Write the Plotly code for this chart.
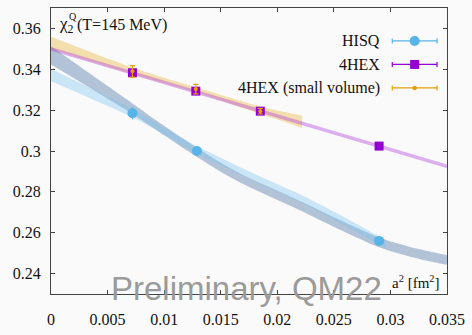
import numpy as np
import plotly.graph_objects as go

# ---- lattice data: chi_2^Q at T = 145 MeV vs a^2 [fm^2] ----
hisq_a2 = [0.0072, 0.0129, 0.0290]
hisq_chi = [0.3185, 0.3000, 0.2560]
hisq_err = [0.0030, 0.0012, 0.0012]

hex_a2 = [0.0072, 0.0128, 0.0185, 0.0290]
hex_chi = [0.3383, 0.3293, 0.3195, 0.3024]
hex_err = [0.0010, 0.0009, 0.0009, 0.0009]

sv_a2 = [0.0072, 0.0128, 0.0185]
sv_chi = [0.3390, 0.3303, 0.3195]
sv_err = [0.0028, 0.0023, 0.0014]

# ---- continuum extrapolation bands ----
hisq_fit1_a2 = [0.0, 0.0036, 0.0072, 0.0100, 0.0129, 0.0149, 0.0180, 0.0219, 0.0254, 0.0290, 0.0296]
hisq_fit1_mid = [0.3372, 0.3280, 0.3186, 0.3097, 0.3005, 0.2952, 0.2870, 0.2772, 0.2672, 0.2562, 0.2544]
hisq_fit1_hw = [0.0031, 0.0025, 0.0020, 0.0018, 0.0018, 0.0018, 0.0018, 0.0019, 0.0019, 0.0020, 0.0020]

hisq_fit2_a2 = [0.0, 0.0036, 0.0072, 0.0100, 0.0129, 0.0155, 0.0180, 0.0219, 0.0254, 0.0290, 0.0320, 0.0350]
hisq_fit2_mid = [0.3468, 0.3338, 0.3207, 0.3100, 0.2993, 0.2905, 0.2833, 0.2735, 0.2642, 0.2553, 0.2503, 0.2467]
hisq_fit2_hw = [0.0045, 0.0035, 0.0026, 0.0023, 0.0022, 0.0022, 0.0022, 0.0023, 0.0024, 0.0024, 0.0024, 0.0024]

sv_fit_a2 = [0.0, 0.0036, 0.0072, 0.0128, 0.0185, 0.0222]
sv_fit_mid = [0.3530, 0.3460, 0.3392, 0.3300, 0.3200, 0.3143]
sv_fit_hw = [0.0029, 0.0022, 0.0016, 0.0012, 0.0018, 0.0030]

hex_fit_a2 = [0.0, 0.035]
hex_fit_chi = [0.3500, 0.2925]

# ---- axes ----
x_ticks = [0, 0.005, 0.01, 0.015, 0.02, 0.025, 0.03, 0.035]
x_ticktext = ["0", "0.005", "0.01", "0.015", "0.02", "0.025", "0.03", "0.035"]
y_ticks = [0.24, 0.26, 0.28, 0.30, 0.32, 0.34, 0.36]
y_ticktext = ["0.24", "0.26", "0.28", "0.3", "0.32", "0.34", "0.36"]

legend_labels = ["HISQ", "4HEX", "4HEX (small volume)"]
watermark = "Preliminary, QM22"

BLUE = "#56b4e9"
VIOLET = "#9400d3"
ORANGE = "#e69f00"
BG = "#fafafa"
SERIF = "Liberation Serif"

W, H = 472, 335
ML, MR, MT, MB = 51, 23, 7, 24


def band(xs, mid, hw, fillcolor):
    xs = np.asarray(xs)
    mid = np.asarray(mid)
    hw = np.asarray(hw)
    upper = go.Scatter(x=xs, y=mid + hw, mode="lines", line=dict(width=0, shape="spline", smoothing=0.8),
                       hoverinfo="skip", showlegend=False)
    lower = go.Scatter(x=xs, y=mid - hw, mode="lines", line=dict(width=0, shape="spline", smoothing=0.8),
                       fill="tonexty", fillcolor=fillcolor, hoverinfo="skip", showlegend=False)
    return [upper, lower]


fig = go.Figure()

for tr in band(hisq_fit2_a2, hisq_fit2_mid, hisq_fit2_hw, "rgba(100,135,178,0.48)"):
    fig.add_trace(tr)
for tr in band(hisq_fit1_a2, hisq_fit1_mid, hisq_fit1_hw, "rgba(120,195,240,0.38)"):
    fig.add_trace(tr)
for tr in band(sv_fit_a2, sv_fit_mid, sv_fit_hw, "rgba(230,159,0,0.30)"):
    fig.add_trace(tr)

fig.add_trace(go.Scatter(x=hex_fit_a2, y=hex_fit_chi, mode="lines",
                         line=dict(color="rgba(175,60,220,0.40)", width=3.5),
                         hoverinfo="skip", showlegend=False))

fig.add_trace(go.Scatter(
    x=hisq_a2, y=hisq_chi, mode="markers", name=legend_labels[0],
    marker=dict(symbol="circle", size=10, color=BLUE),
    error_y=dict(type="data", array=hisq_err, color=BLUE, thickness=1.2, width=0),
    showlegend=False))
fig.add_trace(go.Scatter(
    x=hex_a2, y=hex_chi, mode="markers", name=legend_labels[1],
    marker=dict(symbol="square", size=9, color=VIOLET),
    error_y=dict(type="data", array=hex_err, color=VIOLET, thickness=1.2, width=0),
    showlegend=False))
fig.add_trace(go.Scatter(
    x=sv_a2, y=sv_chi, mode="markers", name=legend_labels[2],
    marker=dict(symbol="circle", size=4, color=ORANGE),
    error_y=dict(type="data", array=sv_err, color=ORANGE, thickness=1.2, width=2.5),
    showlegend=False))

pw, ph = W - ML - MR, H - MT - MB


def px(xp):
    return (xp - ML) / pw


def py(yp):
    return (H - MB - yp) / ph


# hand-built key: label on the left, sample on the right
shapes = []
annotations = []
key_rows = [42, 67, 92]
key_colors = [BLUE, VIOLET, ORANGE]
key_text_right = 384
key_line = (394, 439)
for label, row, col, k in zip(legend_labels, key_rows, key_colors, range(3)):
    annotations.append(dict(text=label, xref="paper", yref="paper", x=px(key_text_right), y=py(row),
                            xanchor="right", yanchor="middle", showarrow=False,
                            font=dict(family=SERIF, size=16, color="#111")))
    shapes.append(dict(type="line", xref="paper", yref="paper",
                       x0=px(key_line[0]), x1=px(key_line[1]), y0=py(row), y1=py(row),
                       line=dict(color=col, width=1.2)))
    for xe in key_line:
        shapes.append(dict(type="line", xref="paper", yref="paper", xsizemode="pixel", ysizemode="pixel",
                           xanchor=px(xe), yanchor=py(row), x0=0, x1=0, y0=-2.5, y1=2.5,
                           line=dict(color=col, width=1.2)))
    cx = (key_line[0] + key_line[1]) / 2
    r = [5, 4.5, 2.2][k]
    shapes.append(dict(type="rect" if k == 1 else "circle", xref="paper", yref="paper",
                       xsizemode="pixel", ysizemode="pixel", xanchor=px(cx), yanchor=py(row),
                       x0=-r, x1=r, y0=-r, y1=r, fillcolor=col, line=dict(width=0)))

annotations.append(dict(text="χ<sub>2</sub>", xref="paper", yref="paper", x=px(57), y=py(25),
                        xanchor="left", yanchor="middle", showarrow=False,
                        font=dict(family=SERIF, size=17, color="#111")))
annotations.append(dict(text="Q", xref="paper", yref="paper", x=px(67), y=py(16),
                        xanchor="left", yanchor="middle", showarrow=False,
                        font=dict(family=SERIF, size=10, color="#111")))
annotations.append(dict(text="(T=145 MeV)", xref="paper", yref="paper", x=px(75), y=py(25),
                        xanchor="left", yanchor="middle", showarrow=False,
                        font=dict(family=SERIF, size=16, color="#111")))
annotations.append(dict(text="a<sup>2</sup> [fm<sup>2</sup>]", xref="paper", yref="paper", x=px(444), y=py(298),
                        xanchor="right", yanchor="middle", showarrow=False,
                        font=dict(family=SERIF, size=15, color="#111")))

tick_font = dict(family=SERIF, size=16, color="#111")
axis_common = dict(showgrid=False, zeroline=False, showline=True, linecolor="#444", linewidth=1,
                   mirror="ticks", ticks="inside", ticklen=4, tickcolor="#444")

fig.update_layout(
    width=W, height=H,
    margin=dict(l=ML, r=MR, t=MT, b=MB, pad=0),
    paper_bgcolor=BG, plot_bgcolor=BG,
    font=dict(family=SERIF, size=16, color="#111"),
    showlegend=False,
    # the grey watermark sits in the title slot so it is never clipped
    title=dict(text=watermark, xref="container", yref="container", x=111 / W, y=1 - 288 / H,
               xanchor="left", yanchor="middle",
               font=dict(family="Liberation Sans", size=33, color="#9a9a9a")),
    shapes=shapes,
    annotations=annotations,
)
fig.update_xaxes(range=[0, 0.035], tickvals=x_ticks, ticktext=x_ticktext, ticklabelstandoff=11,
                 tickfont=tick_font, **axis_common)
fig.update_yaxes(range=[0.23, 0.37], tickvals=y_ticks, ticktext=y_ticktext, ticklabelstandoff=6,
                 tickfont=tick_font, **axis_common)

fig.write_html("out.html", include_plotlyjs=True, config={"displayModeBar": False})
